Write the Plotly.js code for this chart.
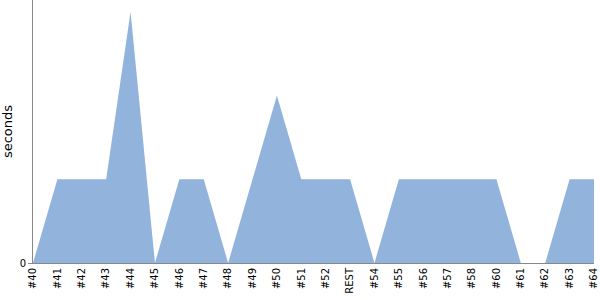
<!DOCTYPE html>
<html><head><meta charset="utf-8">
<script src="https://cdn.plot.ly/plotly-3.0.1.min.js"></script>
<style>html,body{margin:0;padding:0;background:#fff}#chart{width:600px;height:300px}</style>
</head><body><div id="chart"></div>
<script>
var categories = ["#40","#41","#42","#43","#44","#45","#46","#47","#48","#49","#50","#51","#52","REST","#54","#55","#56","#57","#58","#60","#61","#62","#63","#64"];
var seconds = [0,1,1,1,3,0,1,1,0,1,2,1,1,1,0,1,1,1,1,1,0,0,1,1];

var trace = {
  x: categories, y: seconds, type: 'scatter', mode: 'lines',
  fill: 'tozeroy', fillcolor: 'rgb(146,179,220)',
  line: {width: 0, color: 'rgb(146,179,220)'}, hoverinfo: 'none'
};
var layout = {
  width: 600, height: 300,
  margin: {l: 33, r: 6, t: 0, b: 37},
  paper_bgcolor: '#fff', plot_bgcolor: '#fff',
  font: {family: 'DejaVu Sans, sans-serif', size: 10, color: '#000'},
  showlegend: false,
  xaxis: {
    type: 'category', range: [0, categories.length - 1],
    tickangle: -90, showgrid: false, zeroline: false,
    showline: true, linecolor: '#888', linewidth: 1,
    ticks: '', tickfont: {size: 10}, fixedrange: true
  },
  yaxis: {
    range: [0, 3.14], tickvals: [0], ticktext: ['0'],
    showgrid: false, zeroline: false,
    showline: true, linecolor: '#888', linewidth: 1,
    ticks: 'outside', ticklen: 4, tickcolor: '#888',
    tickfont: {size: 10},
    title: {text: 'seconds', font: {size: 13}, standoff: 8}, fixedrange: true
  }
};
Plotly.newPlot('chart', [trace], layout, {displayModeBar: false, staticPlot: true});
</script></body></html>
